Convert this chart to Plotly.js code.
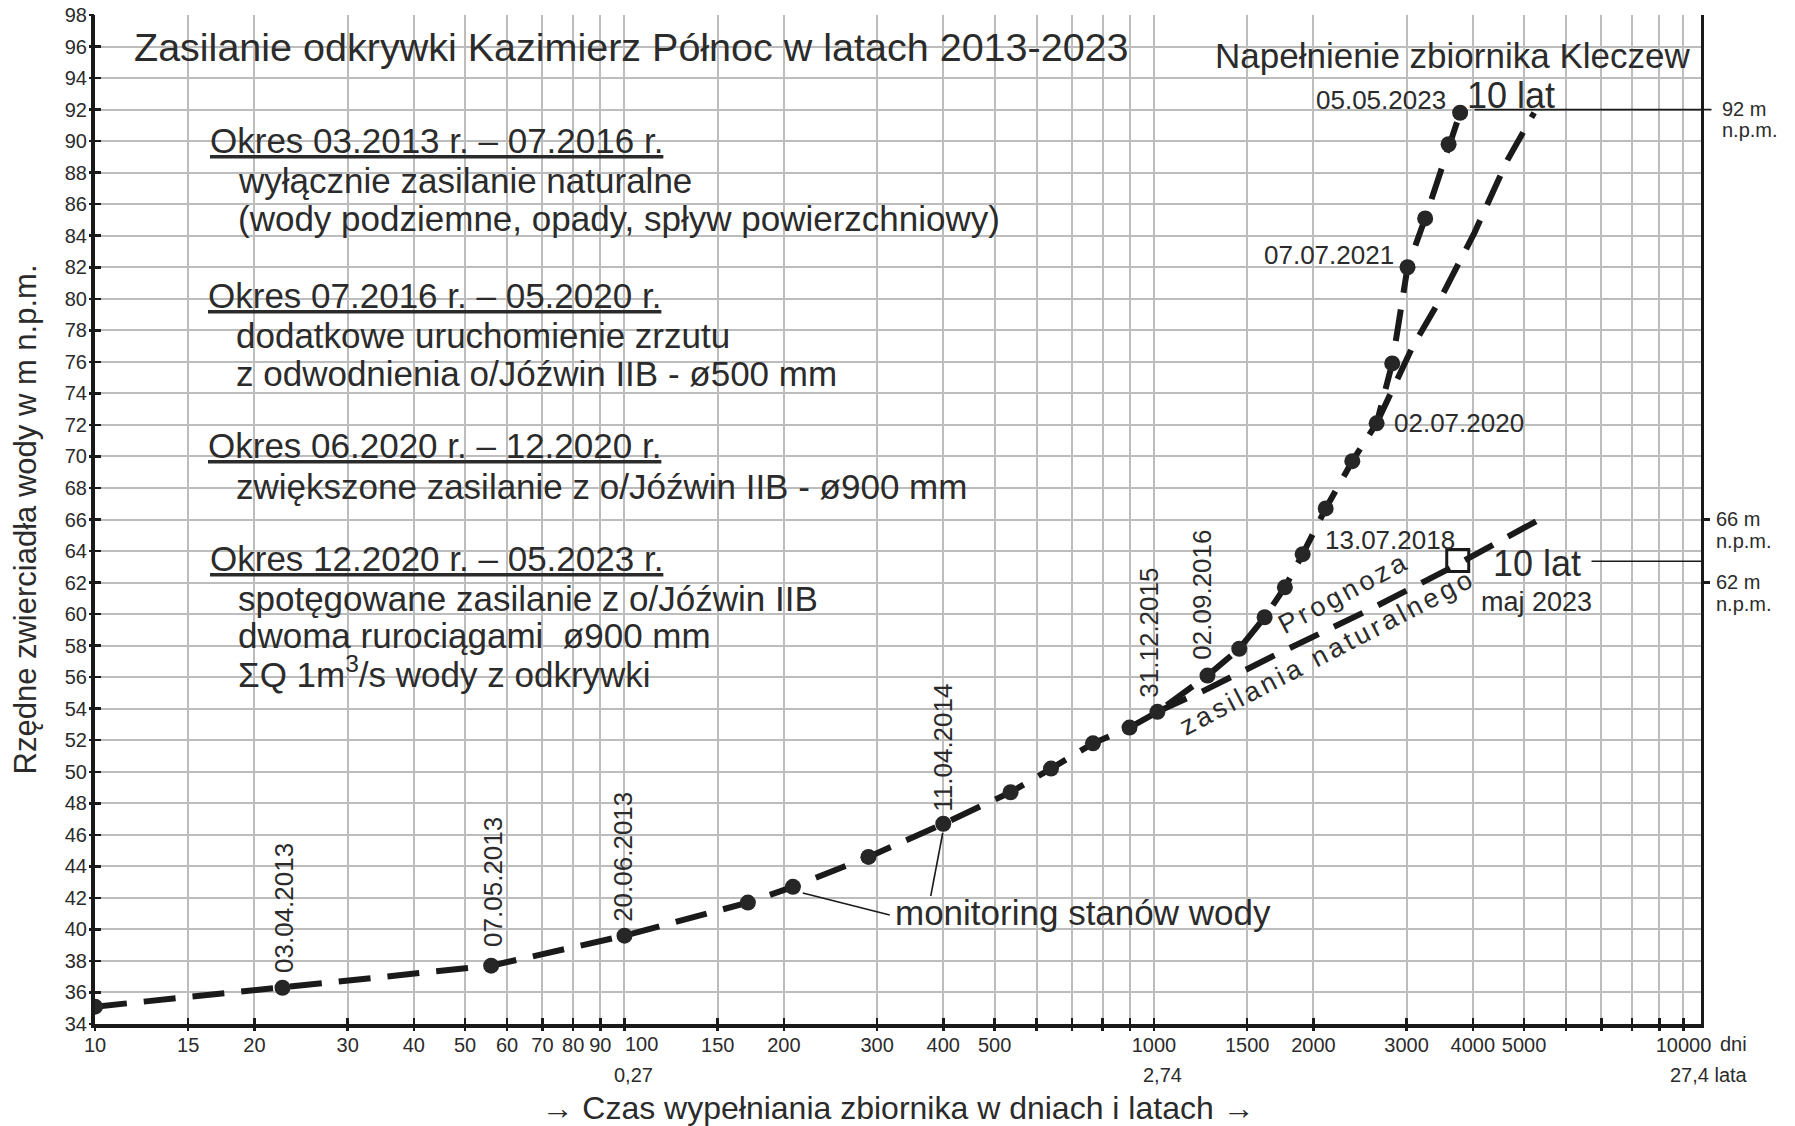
<!DOCTYPE html>
<html>
<head>
<meta charset="utf-8">
<script src="https://cdn.plot.ly/plotly-3.0.1.min.js"></script>
<style>
html,body{margin:0;padding:0;background:#fff;}
#chart{width:1795px;height:1126px;}
</style>
</head>
<body>
<div id="chart"></div>
<script>
// ---------------- DATA ----------------
// monitoring of water level: filling time [days] and level [m n.p.m.]
const days   = [10, 22.6, 56, 100, 171, 208, 289, 400, 536, 639, 767, 899, 1015, 1262, 1449, 1618, 1767, 1909, 2110, 2369, 2633, 2818, 3012, 3252, 3601, 3786];
const levels = [35.1, 36.3, 37.7, 39.6, 41.7, 42.7, 44.6, 46.7, 48.7, 50.2, 51.8, 52.8, 53.8, 56.1, 57.8, 59.8, 61.7, 63.8, 66.7, 69.7, 72.1, 75.9, 82.0, 85.1, 89.8, 91.8];

// forecast - natural inflow only
const naturalDays   = [1015, 1235, 1705, 2559, 3620, 5478];
const naturalLevels = [53.8, 55.1, 57.45, 60.3, 62.9, 66.2];

// forecast - with inflow from o/Jóźwin IIB
const feedDays   = [2633, 2806, 3083, 3463, 4031, 4651, 5224];
const feedLevels = [72.1, 74.0, 77.0, 79.9, 84.2, 88.8, 91.8];

// natural-inflow level after 10 years (May 2023)
const tenYearDays  = [3747];
const tenYearLevel = [63.4];

// axes
const xTickVals = [10,15,20,30,40,50,60,70,80,90,100,150,200,300,400,500,600,700,800,900,1000,1500,2000,3000,4000,5000,6000,7000,8000,9000,10000];
const xTickText = ['10','15','20','30','40','50','60','70','80','90','','150','200','300','400','500','','','','','1000','1500','2000','3000','4000','5000','','','','','10000'];
const shiftedTickDays = [100];
const shiftedTickText = ['100'];
const yearDays  = [100, 1000, 10000];
const yearText  = ['0,27', '2,74', '27,4 lata'];
const rightMarks = [62, 66];
const rightMarkText = ['62 m', '66 m'];

// date labels of selected measurements
const dateText = ['03.04.2013','07.05.2013','20.06.2013','11.04.2014','31.12.2015','02.09.2016','13.07.2018','02.07.2020','07.07.2021','05.05.2023'];

// ---------------- LAYOUT HELPERS ----------------
const FONT = 'Liberation Sans, Arial, Helvetica, sans-serif';
const TXT = '#2b2b2b';
const INK = '#1a1a1a';
const L = 95, R = 1701.5, T = 15, B = 1024;
const XR = [1.0, 4.0331];
const YR = [34, 98];
const px = X => (X - L) / (R - L);
const py = Y => (B - Y) / (B - T);

function note(text, X, Y, size, extra) {
  return Object.assign({
    text: text, xref: 'paper', yref: 'paper', x: px(X), y: py(Y),
    xanchor: 'center', yanchor: 'middle', showarrow: false,
    font: {family: FONT, size: size, color: TXT}
  }, extra || {});
}

const ann = [];

// headline in the top-right
ann.push(note('Napełnienie zbiornika Kleczew', 1453, 55, 35));

// text block
const blockLines = [
  ['<u>Okres 03.2013 r. – 07.2016 r.</u>', 209, 140],
  ['wyłącznie zasilanie naturalne', 237, 180],
  ['(wody podziemne, opady, spływ powierzchniowy)', 237, 218],
  ['<u>Okres 07.2016 r. – 05.2020 r.</u>', 207, 296],
  ['dodatkowe uruchomienie zrzutu', 235, 335],
  ['z odwodnienia o/Jóźwin IIB - ø500 mm', 235, 373],
  ['<u>Okres 06.2020 r. – 12.2020 r.</u>', 207, 446],
  ['zwiększone zasilanie z o/Jóźwin IIB - ø900 mm', 235, 486],
  ['<u>Okres 12.2020 r. – 05.2023 r.</u>', 209, 558],
  ['spotęgowane zasilanie z o/Jóźwin IIB', 237, 598],
  ['dwoma rurociągami  ø900 mm', 237, 635],
  ['ΣQ 1m<sup>3</sup>/s wody z odkrywki', 237, 672]
];
blockLines.forEach(b => ann.push(note(b[0], b[1], b[2], 35, {xanchor: 'left', borderpad: 0})));

// date labels (pixel placement next to their measurement)
const datePos = [
  [284, 908, -90], [493, 882, -90], [623, 857, -90], [943, 748, -90],
  [1149, 633, -90], [1202, 595, -90],
  [1390, 540, 0], [1459, 423, 0], [1329, 255, 0], [1381, 100, 0]
];
dateText.forEach((t, i) => {
  const p = datePos[i];
  ann.push(note(t, p[0], p[1], 26, {textangle: p[2]}));
});

// 10 years labels
ann.push(note('10 lat', 1511, 95, 36));
ann.push(note('10 lat', 1537, 563, 36));
ann.push(note('maj 2023', 1537, 602, 27));

// forecast text along the line
ann.push(note('<span style="letter-spacing:3.5px">Prognoza</span>', 1344, 593, 27, {textangle: -28}));
ann.push(note('<span style="letter-spacing:3.5px">zasilania naturalnego</span>', 1328, 652, 27, {textangle: -27.5}));

// monitoring label
ann.push(note('monitoring stanów wody', 893, 912, 35, {xanchor: 'left'}));

// right-side level marks
ann.push(note('92 m', 1722, 109, 20, {xanchor: 'left', borderpad: 0}));
ann.push(note('n.p.m.', 1722, 130, 20, {xanchor: 'left', borderpad: 0}));
rightMarks.forEach((v, i) => {
  ann.push({text: rightMarkText[i], xref: 'paper', yref: 'y', x: px(1716), y: v, yshift: 1, xanchor: 'left', yanchor: 'middle',
    borderpad: 0, showarrow: false, font: {family: FONT, size: 20, color: TXT}});
  ann.push({text: 'n.p.m.', xref: 'paper', yref: 'y', x: px(1716), y: v, yshift: -21, xanchor: 'left', yanchor: 'middle',
    borderpad: 0, showarrow: false, font: {family: FONT, size: 20, color: TXT}});
});

// tick label that is moved aside in the original (crowded 90 / 100)
shiftedTickDays.forEach((d, i) => {
  ann.push({text: shiftedTickText[i], xref: 'x', yref: 'paper', x: Math.log10(d), y: py(1044),
    xanchor: 'center', xshift: 17, yanchor: 'middle', showarrow: false,
    font: {family: FONT, size: 20, color: TXT}});
});

// second row of x labels (years)
yearDays.forEach((d, i) => {
  ann.push({text: yearText[i], xref: 'x', yref: 'paper', x: Math.log10(d), y: py(1075),
    xanchor: i === 2 ? 'left' : 'center', xshift: i === 2 ? -15 : 9, yanchor: 'middle',
    showarrow: false, font: {family: FONT, size: 20, color: TXT}});
});
ann.push({text: 'dni', xref: 'x', yref: 'paper', x: Math.log10(10000), y: py(1044), xanchor: 'left', xshift: 35,
  yanchor: 'middle', showarrow: false, font: {family: FONT, size: 20, color: TXT}});

// ---------------- TRACES ----------------
const dashStyle = '32px,17px';
const traces = [
  {x: naturalDays, y: naturalLevels, mode: 'lines', line: {color: INK, width: 6, dash: dashStyle},
   hoverinfo: 'skip', showlegend: false},
  {x: feedDays, y: feedLevels, mode: 'lines', line: {color: INK, width: 6, dash: dashStyle},
   hoverinfo: 'skip', showlegend: false},
  {x: days, y: levels, mode: 'lines+markers', line: {color: INK, width: 6, dash: dashStyle},
   marker: {size: 16, color: '#262626'}, showlegend: false},
  {x: tenYearDays, y: tenYearLevel, mode: 'markers',
   marker: {symbol: 'square-open', size: 22, color: INK, line: {width: 3, color: INK}}, showlegend: false},
  // carriers for the overlay axes (crossing tick marks and right border)
  {x: [xTickVals[0]], y: [YR[0]], xaxis: 'x2', yaxis: 'y2', mode: 'markers', marker: {opacity: 0}, hoverinfo: 'skip', showlegend: false},
  {x: [xTickVals[0]], y: [YR[0]], xaxis: 'x', yaxis: 'y3', mode: 'markers', marker: {opacity: 0}, hoverinfo: 'skip', showlegend: false}
];

// ---------------- LAYOUT ----------------
const gridCol = '#bdbdbd';
const leader = (X0, Y0, X1, Y1) => ({type: 'line', xref: 'paper', yref: 'paper',
  x0: px(X0), y0: py(Y0), x1: px(X1), y1: py(Y1), line: {color: INK, width: 1.6}});
const layout = {
  width: 1795, height: 1126,
  paper_bgcolor: '#ffffff', plot_bgcolor: '#ffffff',
  margin: {l: L, r: 1795 - R, t: T, b: 1126 - B, pad: 0},
  font: {family: FONT, color: TXT},
  showlegend: false,
  title: {text: 'Zasilanie odkrywki Kazimierz Północ w latach 2013-2023',
    font: {family: FONT, size: 39.5, color: TXT},
    x: 134 / 1795, xanchor: 'left', xref: 'container',
    y: 1 - 47 / 1126, yanchor: 'middle', yref: 'container'},
  xaxis: {
    type: 'log', range: XR, tickvals: xTickVals, ticktext: xTickText, tickangle: 0,
    ticks: 'inside', ticklen: 6, tickwidth: 2.5, tickcolor: INK,
    showline: true, linewidth: 3.5, linecolor: INK,
    showgrid: true, gridcolor: gridCol, gridwidth: 2, zeroline: false,
    tickfont: {family: FONT, size: 20, color: TXT},
    title: {text: '→ Czas wypełniania zbiornika w dniach i latach →', font: {family: FONT, size: 32, color: TXT}, standoff: 43},
    fixedrange: true
  },
  yaxis: {
    range: YR, tick0: 34, dtick: 2,
    ticks: 'inside', ticklen: 6, tickwidth: 2.5, tickcolor: INK,
    showline: true, linewidth: 4, linecolor: INK,
    showgrid: true, gridcolor: gridCol, gridwidth: 2, zeroline: false,
    tickfont: {family: FONT, size: 20, color: TXT},
    title: {text: 'Rzędne zwierciadła wody w m n.p.m.', font: {family: FONT, size: 31, color: TXT}, standoff: 20},
    fixedrange: true
  },
  xaxis2: {
    type: 'log', range: XR, overlaying: 'x', anchor: 'y2', side: 'bottom',
    tickvals: xTickVals, showticklabels: false, ticks: 'outside', ticklen: 6, tickwidth: 2.5, tickcolor: INK,
    showgrid: false, showline: false, zeroline: false, fixedrange: true
  },
  yaxis2: {
    range: YR, overlaying: 'y', anchor: 'x2', side: 'left', tick0: 34, dtick: 2,
    showticklabels: false, ticks: 'outside', ticklen: 5, tickwidth: 2.5, tickcolor: INK,
    showgrid: false, showline: false, zeroline: false, fixedrange: true
  },
  yaxis3: {
    range: YR, overlaying: 'y', anchor: 'x', side: 'right',
    tickvals: rightMarks, showticklabels: false, ticks: 'outside', ticklen: 6, tickwidth: 2.5, tickcolor: INK,
    showgrid: false, showline: true, linewidth: 3, linecolor: INK, zeroline: false, fixedrange: true
  },
  shapes: [
    {type: 'line', xref: 'paper', yref: 'y', x0: px(1475), x1: px(1712), y0: 92, y1: 92,
     line: {color: INK, width: 1.6}},
    {type: 'line', xref: 'paper', yref: 'y', x0: px(1592), x1: 1, y0: tenYearLevel[0] - 0.05, y1: tenYearLevel[0] - 0.05,
     line: {color: INK, width: 1.6}},
    // leader lines of the "monitoring stanów wody" label
    leader(890, 915, 803, 893),
    leader(931, 896, 943, 833)
  ],
  annotations: ann
};

Plotly.newPlot('chart', traces, layout, {staticPlot: true, displayModeBar: false});
</script>
</body>
</html>
